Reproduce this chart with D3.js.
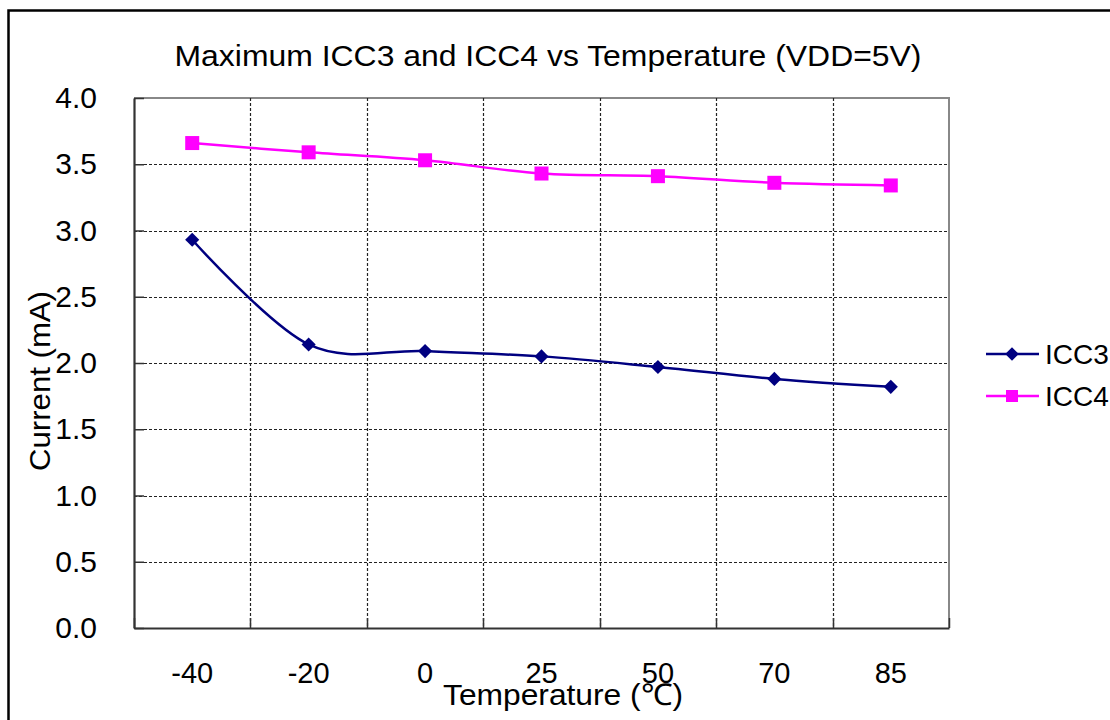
<!DOCTYPE html>
<html>
<head>
<meta charset="utf-8">
<script src="https://cdn.jsdelivr.net/npm/d3@7"></script>
<style>
  html, body { margin: 0; padding: 0; background: #fff; }
  svg { display: block; font-family: "Liberation Sans", Arial, sans-serif; }
</style>
</head>
<body>
<svg id="chart" width="1110" height="720"></svg>
<script>
// Temperature categories (°C) and maximum supply currents (mA)
const temperatures = ["-40", "-20", "0", "25", "50", "70", "85"];
const icc3 = [2.93, 2.14, 2.09, 2.05, 1.97, 1.88, 1.82];
const icc4 = [3.66, 3.59, 3.53, 3.43, 3.41, 3.36, 3.34];
const yTicks = [0, 0.5, 1, 1.5, 2, 2.5, 3, 3.5, 4];
const seriesNames = ["ICC3", "ICC4"];
const seriesColors = ["#000080", "#FF00FF"];

const svg = d3.select("#chart");
const plot = { left: 134, right: 949, top: 98, bottom: 628 };

const x = d3.scaleBand().domain(temperatures).range([plot.left, plot.right]).padding(0);
const y = d3.scaleLinear().domain([0, 4]).range([plot.bottom, plot.top]);
const cx = d => x(d) + x.bandwidth() / 2;

// Outer frame of the chart area
svg.append("rect")
  .attr("x", 8.5).attr("y", 10.5)
  .attr("width", 1130).attr("height", 730)
  .attr("fill", "none").attr("stroke", "#000").attr("stroke-width", 2.5);

// Title
svg.append("text")
  .attr("x", 548).attr("y", 66)
  .attr("text-anchor", "middle")
  .attr("font-size", 30)
  .attr("textLength", 747).attr("lengthAdjust", "spacingAndGlyphs")
  .attr("fill", "#000")
  .text("Maximum ICC3 and ICC4 vs Temperature (VDD=5V)");

// Plot border (top and right in grey)
svg.append("path")
  .attr("d", `M${plot.left},${plot.top}H${plot.right}V${plot.bottom}`)
  .attr("fill", "none").attr("stroke", "#888").attr("stroke-width", 2);

// Horizontal dashed gridlines
svg.append("g").selectAll("line")
  .data(yTicks.filter(v => v > 0 && v < 4))
  .join("line")
  .attr("x1", plot.left).attr("x2", plot.right)
  .attr("y1", d => Math.round(y(d)) + 0.5).attr("y2", d => Math.round(y(d)) + 0.5)
  .attr("stroke", "#222").attr("stroke-width", 1.2)
  .attr("stroke-dasharray", "3,2");

// Vertical dashed gridlines at category boundaries
const boundaries = temperatures.slice(1).map(t => x(t));
svg.append("g").selectAll("line")
  .data(boundaries)
  .join("line")
  .attr("x1", d => Math.round(d) + 0.5).attr("x2", d => Math.round(d) + 0.5)
  .attr("y1", plot.top).attr("y2", plot.bottom)
  .attr("stroke", "#222").attr("stroke-width", 1.2)
  .attr("stroke-dasharray", "3,2");

// Y axis with inside ticks
const yAxis = d3.axisLeft(y).tickValues(yTicks)
  .tickFormat(d3.format(".1f"))
  .tickSizeInner(-10).tickSizeOuter(0).tickPadding(37);
const gy = svg.append("g").attr("transform", `translate(${plot.left},0)`).call(yAxis);
gy.select(".domain").attr("stroke", "#333").attr("stroke-width", 2.2);
gy.selectAll(".tick line").attr("stroke", "#333").attr("stroke-width", 1.5);
gy.selectAll(".tick text").attr("font-size", 30).attr("fill", "#000")
  .attr("font-family", "Liberation Sans, Arial, sans-serif");

// X axis: labels at category centres, inside ticks at boundaries
const xAxis = d3.axisBottom(x).tickSize(0).tickPadding(34);
const gx = svg.append("g").attr("transform", `translate(0,${plot.bottom})`).call(xAxis);
gx.select(".domain").attr("stroke", "#333").attr("stroke-width", 2.2);
gx.selectAll(".tick text").attr("font-size", 29).attr("fill", "#000")
  .attr("font-family", "Liberation Sans, Arial, sans-serif");
svg.append("g").selectAll("line")
  .data([plot.left, ...boundaries, plot.right])
  .join("line")
  .attr("x1", d => Math.round(d) + 0.5).attr("x2", d => Math.round(d) + 0.5)
  .attr("y1", plot.bottom - 10).attr("y2", plot.bottom)
  .attr("stroke", "#333").attr("stroke-width", 1.5);

// Axis titles
svg.append("text")
  .attr("x", 563).attr("y", 705)
  .attr("text-anchor", "middle")
  .attr("font-size", 30).attr("fill", "#000")
  .attr("textLength", 240).attr("lengthAdjust", "spacingAndGlyphs")
  .text("Temperature (℃)");
svg.append("text")
  .attr("transform", "translate(50,381) rotate(-90)")
  .attr("text-anchor", "middle")
  .attr("font-size", 30).attr("fill", "#000")
  .attr("textLength", 180).attr("lengthAdjust", "spacingAndGlyphs")
  .text("Current (mA)");

// Smoothed series lines
const line = d3.line()
  .x((d, i) => cx(temperatures[i]))
  .y(d => y(d))
  .curve(d3.curveCardinal.tension(0));

const seriesData = [icc3, icc4];
seriesData.forEach((vals, s) => {
  svg.append("path")
    .datum(vals)
    .attr("d", line)
    .attr("fill", "none")
    .attr("stroke", seriesColors[s])
    .attr("stroke-width", 2.5);
});

// Markers
const diamond = d3.symbol().type(d3.symbolSquare).size(100);
svg.append("g").selectAll("path")
  .data(icc3)
  .join("path")
  .attr("d", diamond)
  .attr("transform", (d, i) => `translate(${cx(temperatures[i])},${y(d)}) rotate(45)`)
  .attr("fill", seriesColors[0]);
svg.append("g").selectAll("rect")
  .data(icc4)
  .join("rect")
  .attr("x", (d, i) => cx(temperatures[i]) - 7)
  .attr("y", d => y(d) - 7)
  .attr("width", 14).attr("height", 14)
  .attr("fill", seriesColors[1]);

// Legend
const legendY = [354, 396];
const legend = svg.append("g");
seriesNames.forEach((name, s) => {
  const g = legend.append("g").attr("transform", `translate(0,${legendY[s]})`);
  g.append("line").attr("x1", 986).attr("x2", 1039).attr("y1", 0).attr("y2", 0)
    .attr("stroke", seriesColors[s]).attr("stroke-width", 2.5);
  if (s === 0) {
    g.append("path").attr("d", d3.symbol().type(d3.symbolSquare).size(90))
      .attr("transform", "translate(1012,0) rotate(45)").attr("fill", seriesColors[s]);
  } else {
    g.append("rect").attr("x", 1006).attr("y", -6).attr("width", 12).attr("height", 12)
      .attr("fill", seriesColors[s]);
  }
  g.append("text").attr("x", 1045).attr("y", 10)
    .attr("font-size", 28).attr("fill", "#000").text(name);
});
</script>
</body>
</html>
